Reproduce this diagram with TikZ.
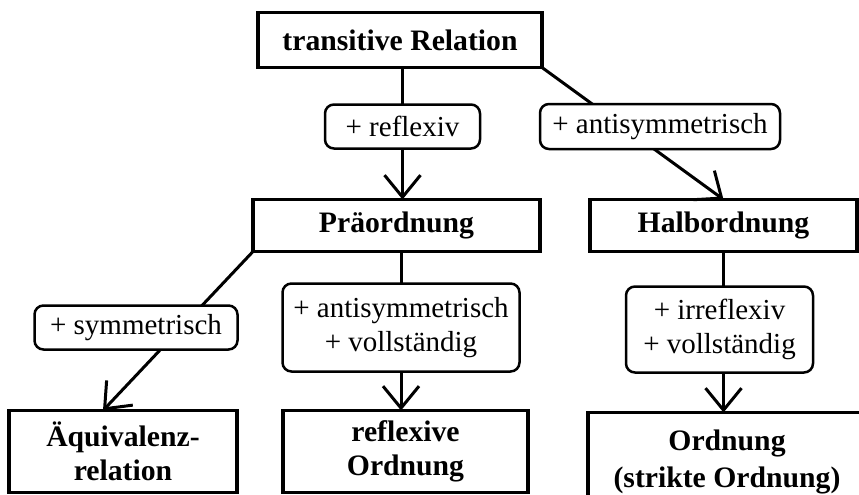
\documentclass[tikz,border=0pt]{standalone}
\usepackage{fontspec}
\setmainfont{Liberation Serif}
\usepackage{tikz}
\usetikzlibrary{arrows.meta,positioning,backgrounds,calc}

\begin{document}
\begin{tikzpicture}[
  node distance=40pt and 50pt,
  box/.style={draw,line width=3.5pt,align=center,inner sep=0pt,outer sep=0pt,font=\fontsize{29.7}{34}\selectfont\bfseries},
  cond/.style={draw,line width=2.5pt,rounded corners=9pt,fill=white,align=center,inner sep=0pt,outer sep=0pt,font=\fontsize{29}{34}\selectfont},
  arrow/.style={-{Straight Barb[length=22pt,width=36pt]},line width=3pt}
]
\useasboundingbox (0,0) rectangle (859pt,-495pt);
\node[box,minimum width=284pt,minimum height=55pt] (trans) at (400pt,-40pt) {transitive Relation};
\node[cond,minimum width=155pt,minimum height=44pt,below=37pt of trans,xshift=2.5pt] (refl) {+ reflexiv};
\node[cond,minimum width=240pt,minimum height=45pt,right=60pt of refl] (antis) {+ antisymmetrisch};
\node[box,minimum width=287pt,minimum height=52pt,below=51pt of refl,xshift=-6pt] (prae) {Präordnung};
\node[box,minimum width=267pt,minimum height=52pt,right=50pt of prae] (halb) {Halbordnung};
\node[cond,minimum width=237pt,minimum height=88pt,below=32pt of prae,xshift=4.5pt] (antvoll) {+ antisymmetrisch\\+ vollständig};
\node[cond,minimum width=203pt,minimum height=44pt,left=45pt of antvoll] (sym) {+ symmetrisch};
\node[cond,minimum width=187pt,minimum height=86pt,below=35pt of halb,xshift=-4pt] (irrvoll) {+ irreflexiv\\+ vollständig};
\node[box,minimum width=228pt,minimum height=82pt,below=61pt of sym,xshift=-13pt] (aequi) {Äquivalenz-\\relation};
\node[box,minimum width=245pt,minimum height=82pt,below=39pt of antvoll,xshift=4.5pt] (reflord) {reflexive\\Ordnung};
\node[box,minimum width=278pt,minimum height=98pt,below=40pt of irrvoll,xshift=7.5pt,font=\fontsize{29.7}{37}\selectfont\bfseries] (ordn) {Ordnung\\(strikte Ordnung)};
\begin{scope}[on background layer]
\draw[arrow] (refl |- trans.south) -- (refl |- prae.north);
\draw[arrow] (trans.south east) -- (halb.north);
\draw[arrow] (prae.south west) -- ($(aequi.north)+(-20pt,0)$);
\draw[arrow] (antvoll |- prae.south) -- (antvoll |- reflord.north);
\draw[arrow] (halb.south) -- (halb.south |- ordn.north);
\end{scope}
\end{tikzpicture}
\end{document}
